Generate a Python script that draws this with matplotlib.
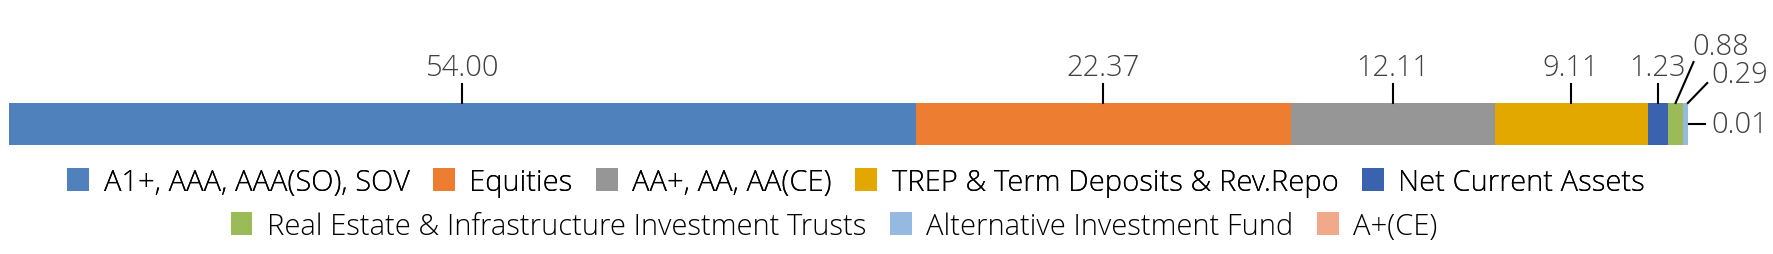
import matplotlib
matplotlib.use('Agg')
import matplotlib.pyplot as plt
from matplotlib.patches import Patch

categories = ['A1+, AAA, AAA(SO), SOV', 'Equities', 'AA+, AA, AA(CE)',
              'TREP & Term Deposits & Rev.Repo', 'Net Current Assets',
              'Real Estate & Infrastructure Investment Trusts',
              'Alternative Investment Fund', 'A+(CE)']
values = [54.00, 22.37, 12.11, 9.11, 1.23, 0.88, 0.29, 0.01]
labels = ['54.00', '22.37', '12.11', '9.11', '1.23', '0.88', '0.29', '0.01']
colors = ['#4f81bd', '#ed7d31', '#969696', '#e2a800', '#3a62ae',
          '#9bbb59', '#95b9e1', '#f2a98a']

plt.rcParams['font.family'] = ['Open Sans', 'DejaVu Sans']
W, H = 1773, 255
fig = plt.figure(figsize=(W / 100, H / 100), dpi=100)
ax = fig.add_axes([9 / W, 0, 1679 / W, 1])
ax.set_xlim(0, sum(values))
ax.set_ylim(H, 0)
ax.axis('off')

bar_y, bar_h = 125, 42
left = 0
for v, c in zip(values, colors):
    ax.barh(bar_y, v, left=left, height=bar_h, color=c, edgecolor='none')
    left += v

txt = dict(fontsize=21, color='#404040', fontweight='light')
lk = dict(color='black', lw=1.5, clip_on=False)
top = bar_y - bar_h / 2
left = 0
for i, (v, lab) in enumerate(zip(values, labels)):
    mid = left + v / 2
    left += v
    if i <= 4:
        ax.plot([mid, mid], [top, top - 19], **lk)
        ax.text(mid, top - 36, lab, ha='center', va='center', **txt)
    elif i == 5:
        ax.annotate(lab, xy=(mid, top), xytext=(17, 57), textcoords='offset pixels',
                    ha='left', va='center', **txt)
        ax.plot([mid, mid + 1.07], [top, top - 41], **lk)
    elif i == 6:
        ax.annotate(lab, xy=(mid, top), xytext=(26, 29), textcoords='offset pixels',
                    ha='left', va='center', **txt)
        ax.plot([mid + 0.15, mid + 1.3], [top, top - 20], **lk)
    else:
        ax.annotate(lab, xy=(left, bar_y), xytext=(23, 0), textcoords='offset pixels',
                    ha='left', va='center', **txt)
        ax.plot([left + 0.06, left + 1.0], [bar_y, bar_y], **lk)

def make_legend(idx, x, y):
    handles = [Patch(facecolor=colors[i], edgecolor='none') for i in idx]
    leg = fig.legend(handles, [categories[i] for i in idx], loc='center',
                     bbox_to_anchor=(x, y), ncol=len(idx), frameon=False,
                     handlelength=0.75, handleheight=0.85,
                     handletextpad=0.5, columnspacing=0.8,
                     prop=dict(size=21, weight='light'))
    return leg

leg1 = make_legend([0, 1, 2, 3, 4], 856 / W, 1 - 183 / H)
fig.add_artist(leg1)
make_legend([5, 6, 7], 834 / W, 1 - 227 / H)

fig.savefig('out.png', dpi=100)
